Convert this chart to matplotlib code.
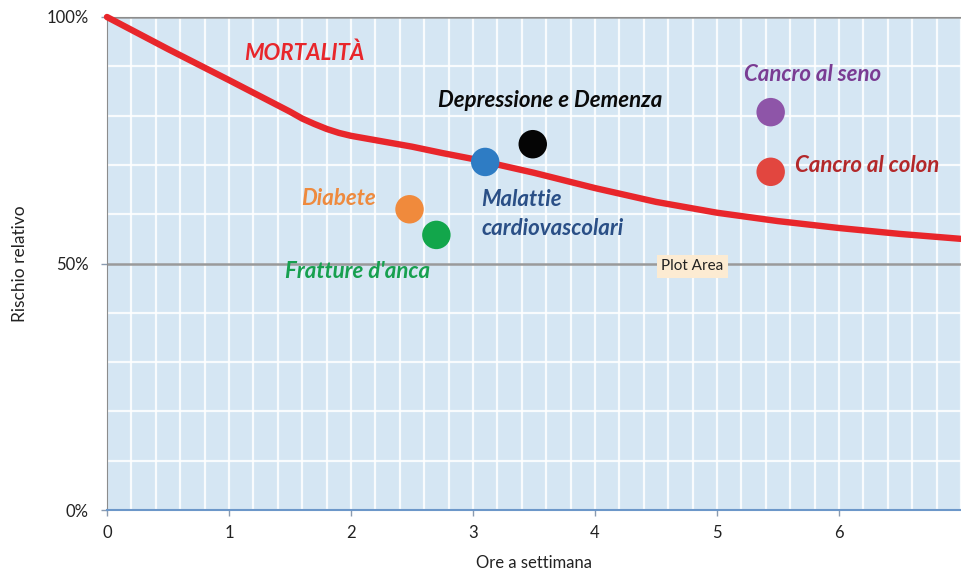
import numpy as np
import matplotlib.pyplot as plt
from matplotlib.ticker import MultipleLocator, FuncFormatter

# curve of mortality (hours per week -> relative risk %)
ore = [0, 0.5, 1, 1.25, 1.5, 1.6, 1.7, 1.8, 1.9, 2, 2.25, 2.5, 2.75, 3, 3.5, 4,
       4.5, 5, 5.5, 6, 6.5, 7]
mortalita = [100, 93.5, 87.2, 84.0, 80.8, 79.4, 78.3, 77.3, 76.5, 75.9, 74.8, 73.7,
             72.4, 71.2, 68.4, 65.3, 62.5, 60.3, 58.6, 57.2, 56, 55]

# single diseases
malattie = ["Diabete", "Fratture d'anca", "Malattie\ncardiovascolari",
            "Depressione e Demenza", "Cancro al seno", "Cancro al colon"]
x_mal = [2.48, 2.70, 3.10, 3.49, 5.44, 5.44]
y_mal = [61.0, 55.8, 70.6, 74.2, 80.7, 68.6]
col_punti = ["#F08A3C", "#12A64B", "#2E7CC4", "#050505", "#8E55A8", "#E2463F"]
col_testo = ["#EE8A3E", "#17A04F", "#2A4F86", "#0A0A0A", "#7A3C93", "#B3282A"]

font = "Lato"

fig = plt.figure(figsize=(9.61, 5.78), dpi=100)
ax = fig.add_axes([0.1113, 0.1176, 0.8887, 0.853])
ax.set_facecolor("#D5E6F3")

ax.set_xlim(0, 7)
ax.set_ylim(0, 100)
ax.set_xticks(range(7))
ax.xaxis.set_minor_locator(MultipleLocator(0.2))
ax.yaxis.set_major_locator(MultipleLocator(50))
ax.yaxis.set_minor_locator(MultipleLocator(10))
ax.yaxis.set_major_formatter(FuncFormatter(lambda v, p: f"{v:.0f}%"))

ax.grid(which="minor", color="white", lw=1.6, alpha=0.85)
ax.grid(which="major", axis="x", color="white", lw=1.6, alpha=0.85)
ax.grid(which="major", axis="y", color="#9A9A9A", lw=1.8)
ax.set_axisbelow(True)
ax.tick_params(which="minor", length=0)
ax.tick_params(which="major", length=4, width=1, direction="out", color="#8A9BB0",
               labelsize=12, labelcolor="#222222")
ax.tick_params(axis="y", pad=9)
ax.tick_params(axis="x", pad=7)
for lab in ax.get_xticklabels() + ax.get_yticklabels():
    lab.set_fontfamily(font)

for s in ["top", "left"]:
    ax.spines[s].set_color("#8C8C8C")
ax.spines["right"].set_visible(False)
ax.spines["bottom"].set_color("#6C97C9")
ax.spines["bottom"].set_linewidth(1.5)

ax.plot(ore, mortalita, color="#E8262B", lw=4.6, solid_joinstyle="round",
        solid_capstyle="round", zorder=3, clip_on=False)

ax.scatter(x_mal, y_mal, s=420, c=col_punti, zorder=4, edgecolors="none")

kw = dict(fontfamily=font, fontweight="bold", fontstyle="italic", fontsize=16)
ax.text(1.62, 92.7, "MORTALITÀ", color="#E8262B", ha="center", va="center", **kw)
ax.text(1.9, 63.1, malattie[0], color=col_testo[0], ha="center", va="center", **kw)
ax.text(2.05, 48.3, malattie[1], color=col_testo[1], ha="center", va="center", **kw)
ax.text(3.07, 60.0, malattie[2], color=col_testo[2], ha="left", va="center",
        linespacing=1.45, **kw)
ax.text(3.63, 83.0, malattie[3], color=col_testo[3], ha="center", va="center", **kw)
ax.text(5.78, 88.4, malattie[4], color=col_testo[4], ha="center", va="center", **kw)
ax.text(5.64, 69.8, malattie[5], color=col_testo[5], ha="left", va="center", **kw)

ax.text(4.8, 49.4, "Plot Area", fontfamily=font, fontsize=11, color="#222222",
        ha="center", va="center",
        bbox=dict(boxstyle="square,pad=0.3", fc="#FCEBD2", ec="none"))

ax.set_xlabel("Ore a settimana", fontfamily=font, fontsize=12, color="#222222", labelpad=10)
ax.set_ylabel("Rischio relativo", fontfamily=font, fontsize=12.5, color="#222222")
ax.yaxis.set_label_coords(-0.093, 0.5)

fig.savefig("out.png", dpi=100)
